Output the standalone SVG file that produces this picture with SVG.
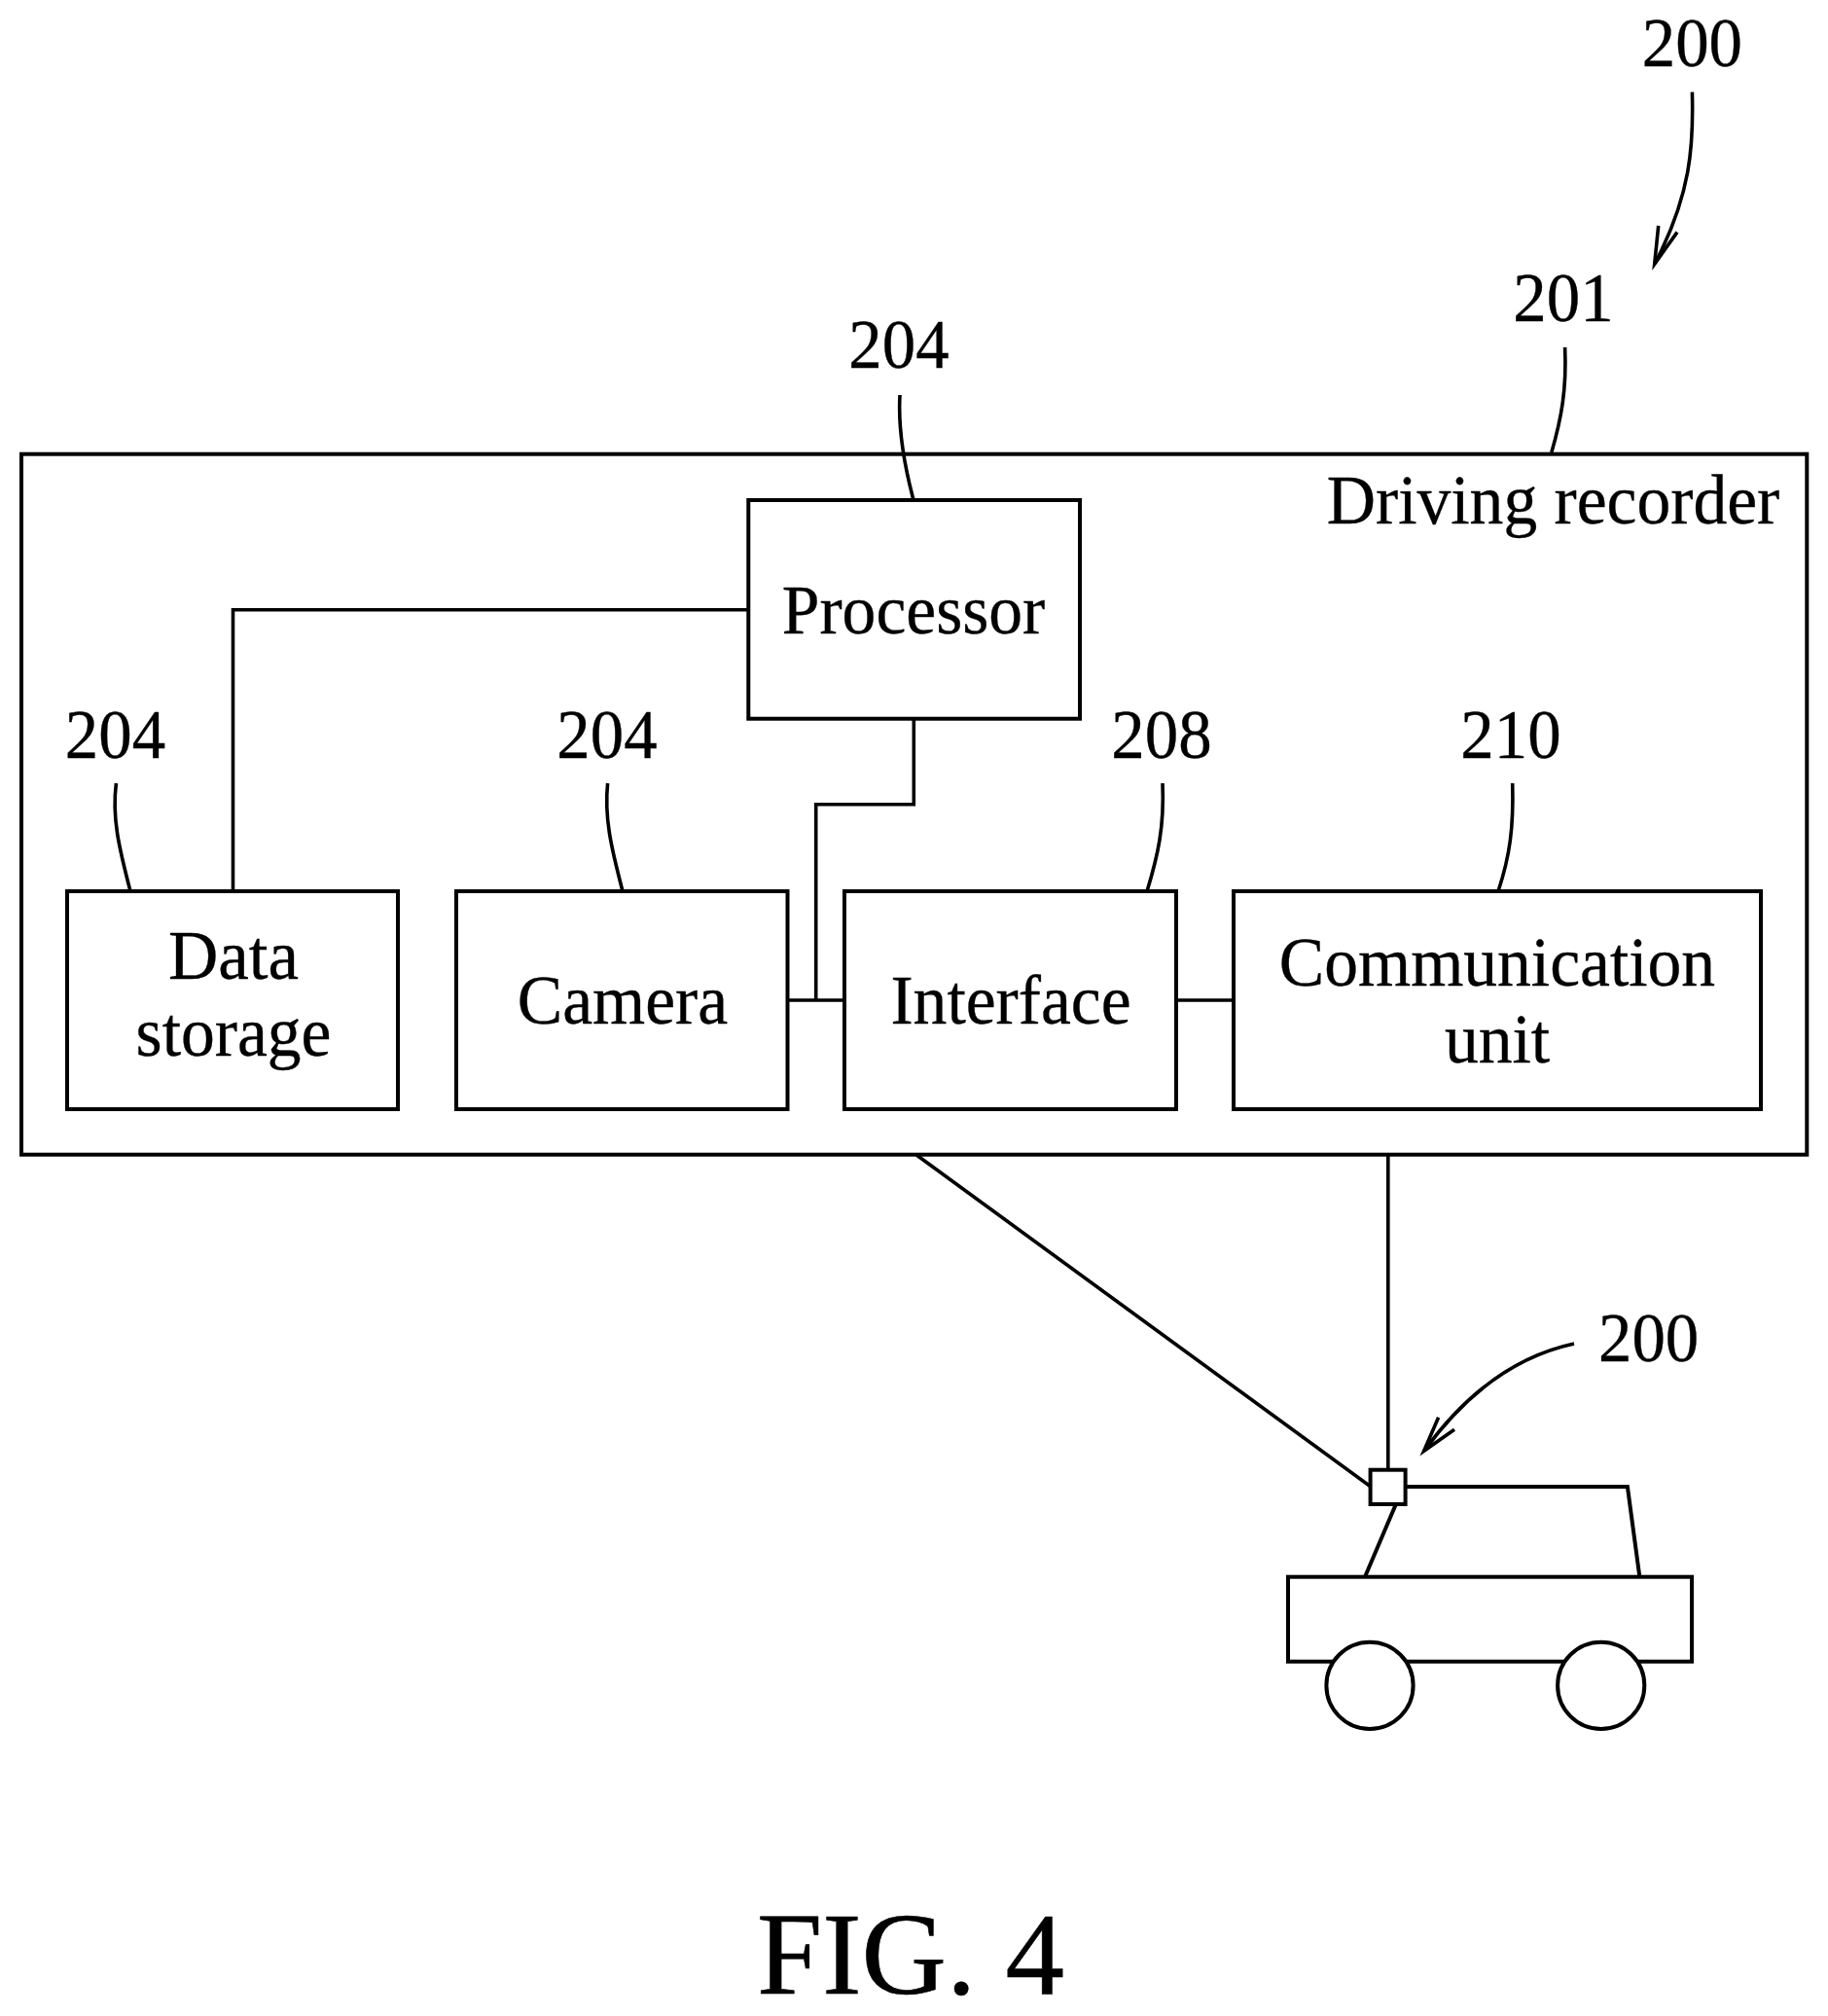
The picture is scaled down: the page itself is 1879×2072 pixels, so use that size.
<svg xmlns="http://www.w3.org/2000/svg" width="1879" height="2072" viewBox="0 0 1879 2072">
<style>
text{font-family:"Liberation Serif","Times New Roman",serif;font-size:71px;fill:#000;stroke:#000;stroke-width:.35;text-anchor:middle}
.box{fill:#fff;stroke:#000;stroke-width:4}
.car{fill:#fff;stroke:#000;stroke-width:4}
.roof{fill:none;stroke:#000;stroke-width:4}
.wire{fill:none;stroke:#000;stroke-width:3.6}
.lead{fill:none;stroke:#000;stroke-width:3.6}
.fig{font-size:121px;stroke-width:.6}
</style>
<rect width="1879" height="2072" fill="#fff"/>
<g id="recorder"><rect class="box" x="22" y="466.7" width="1835.3" height="720"/><text transform="translate(1596.5 537.5) scale(.98 1)">Driving recorder</text></g>
<g id="connectors">
<path class="wire" d="M769 626.7H239.5V916"/>
<path class="wire" d="M939.3 739V826.7H838.7V1028"/>
<path class="wire" d="M809.5 1028H868"/>
<path class="wire" d="M1209 1028H1268"/>
<path class="wire" d="M942 1187L1409 1528"/>
<path class="wire" d="M1426.8 1187V1511"/>
</g>
<g id="leaders">
<path class="lead" d="M1739.4 94.6C1741 150 1738 200 1701 271"/>
<path class="lead" d="M1704.7 232L1700.7 271.4L1724 238.6"/>
<path class="lead" d="M1608.6 357C1610.5 400 1605 430 1594.8 465"/>
<path class="lead" d="M925 406C923 440 930 480 939 514"/>
<path class="lead" d="M119.4 805C115 840 122 870 134 916"/>
<path class="lead" d="M624.6 805C621 840 628 870 640 916"/>
<path class="lead" d="M1195 805C1197 850 1190 880 1179 916"/>
<path class="lead" d="M1554.7 805C1556 850 1552 880 1540 916"/>
<path class="lead" d="M1618 1381Q1530 1400 1464 1491"/>
<path class="lead" d="M1478.6 1456.7L1463.6 1491.3L1495 1469.3"/>
</g>
<g id="processor"><rect class="box" x="769.3" y="514" width="340.7" height="224.7"/><text transform="translate(939 650.5) scale(.98 1)">Processor</text></g>
<g id="data-storage"><rect class="box" x="69" y="916" width="340" height="224"/><text x="240" y="1006">Data</text><text transform="translate(240 1085) scale(.98 1)">storage</text></g>
<g id="camera"><rect class="box" x="469" y="916" width="340.5" height="224"/><text transform="translate(640 1052) scale(.98 1)">Camera</text></g>
<g id="interface"><rect class="box" x="868" y="916" width="341" height="224"/><text transform="translate(1039 1052) scale(.98 1)">Interface</text></g>
<g id="communication-unit"><rect class="box" x="1268" y="916" width="542" height="224"/><text transform="translate(1539 1012.5) scale(.98 1)">Communication</text><text transform="translate(1539 1092) scale(.98 1)">unit</text></g>
<g id="vehicle">
<path class="roof" d="M1409 1528H1672.9L1685.4 1621M1435.7 1544L1402.9 1621"/>
<rect class="car" x="1324" y="1620.7" width="415" height="87"/>
<circle class="car" cx="1408" cy="1732.3" r="44.6"/>
<circle class="car" cx="1645.7" cy="1732.3" r="44.6"/>
<rect class="car" x="1408.6" y="1510.7" width="36" height="35.3"/>
</g>
<g id="labels">
<text transform="translate(1739.4 67.5) scale(.97 1)">200</text>
<text transform="translate(1607 330) scale(.97 1)">201</text>
<text transform="translate(924 378) scale(.97 1)">204</text>
<text transform="translate(118.5 779.3) scale(.97 1)">204</text>
<text transform="translate(624 779.3) scale(.97 1)">204</text>
<text transform="translate(1194 779.3) scale(.97 1)">208</text>
<text transform="translate(1553 779.3) scale(.97 1)">210</text>
<text transform="translate(1694.6 1398.7) scale(.97 1)">200</text>
<text class="fig" x="936" y="2049">FIG. 4</text>
</g>
</svg>
